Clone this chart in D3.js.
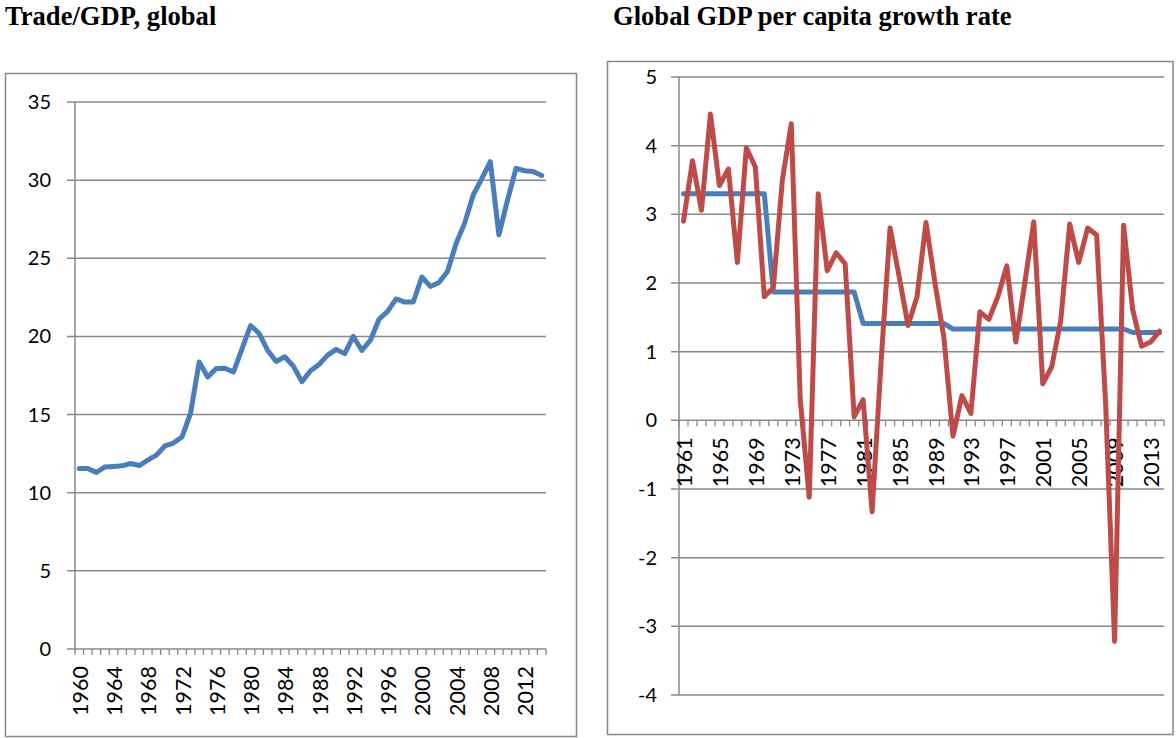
<!DOCTYPE html>
<html>
<head>
<meta charset="utf-8">
<script src="https://cdn.jsdelivr.net/npm/d3@7"></script>
<style>
  body { margin: 0; background: #fff; }
  text { font-family: Lato, "Liberation Sans", sans-serif; fill: #000; }
  .title { font-family: "Liberation Serif", "Times New Roman", serif; font-weight: bold; font-size: 26.6px; }
</style>
</head>
<body>
<script>
// Trade/GDP, global (per cent)
const tradeYears = [1960, 1961, 1962, 1963, 1964, 1965, 1966, 1967, 1968, 1969,
    1970, 1971, 1972, 1973, 1974, 1975, 1976, 1977, 1978, 1979,
    1980, 1981, 1982, 1983, 1984, 1985, 1986, 1987, 1988, 1989,
    1990, 1991, 1992, 1993, 1994, 1995, 1996, 1997, 1998, 1999,
    2000, 2001, 2002, 2003, 2004, 2005, 2006, 2007, 2008, 2009,
    2010, 2011, 2012, 2013, 2014];
const tradeGdp = [11.55, 11.55, 11.3, 11.65, 11.68, 11.72, 11.87, 11.74, 12.08, 12.4,
    13.0, 13.18, 13.57, 15.1, 18.37, 17.4, 17.95, 17.97, 17.72, 19.2,
    20.7, 20.2, 19.1, 18.4, 18.7, 18.1, 17.1, 17.8, 18.2, 18.8,
    19.17, 18.9, 20.0, 19.1, 19.76, 21.1, 21.6, 22.4, 22.2, 22.2,
    23.8, 23.2, 23.45, 24.15, 25.95, 27.25, 29.05, 30.1, 31.18, 26.5,
    28.7, 30.75, 30.6, 30.55, 30.3];
const tradeTicks = [0, 5, 10, 15, 20, 25, 30, 35];
const tradeLabelYears = [1960, 1964, 1968, 1972, 1976, 1980, 1984, 1988, 1992, 1996, 2000, 2004, 2008, 2012];

// Global GDP per capita growth rate
const growthYears = [1961, 1962, 1963, 1964, 1965, 1966, 1967, 1968, 1969, 1970,
    1971, 1972, 1973, 1974, 1975, 1976, 1977, 1978, 1979, 1980,
    1981, 1982, 1983, 1984, 1985, 1986, 1987, 1988, 1989, 1990,
    1991, 1992, 1993, 1994, 1995, 1996, 1997, 1998, 1999, 2000,
    2001, 2002, 2003, 2004, 2005, 2006, 2007, 2008, 2009, 2010,
    2011, 2012, 2013, 2014];
const growthRate = [2.9, 3.78, 3.06, 4.46, 3.42, 3.66, 2.3, 3.97, 3.69, 1.8,
    1.93, 3.49, 4.32, 0.3, -1.12, 3.3, 2.18, 2.44, 2.28, 0.05,
    0.3, -1.33, 0.85, 2.8, 2.1, 1.38, 1.8, 2.88, 2.0, 1.2,
    -0.23, 0.36, 0.1, 1.58, 1.47, 1.8, 2.25, 1.14, 2.0, 2.89,
    0.53, 0.78, 1.45, 2.86, 2.3, 2.8, 2.7, 0.25, -3.22, 2.84,
    1.62, 1.08, 1.14, 1.3];
const periodAverage = [3.3, 3.3, 3.3, 3.3, 3.3, 3.3, 3.3, 3.3, 3.3, 3.3,
    1.87, 1.87, 1.87, 1.87, 1.87, 1.87, 1.87, 1.87, 1.87, 1.87,
    1.41, 1.41, 1.41, 1.41, 1.41, 1.41, 1.41, 1.41, 1.41, 1.41,
    1.33, 1.33, 1.33, 1.33, 1.33, 1.33, 1.33, 1.33, 1.33, 1.33,
    1.33, 1.33, 1.33, 1.33, 1.33, 1.33, 1.33, 1.33, 1.33, 1.33,
    1.28, 1.28, 1.28, 1.28];
const growthTicks = [-4, -3, -2, -1, 0, 1, 2, 3, 4, 5];
const growthLabelYears = [1961, 1965, 1969, 1973, 1977, 1981, 1985, 1989, 1993, 1997, 2001, 2005, 2009, 2013];

const gridColor = "#898989";
const blue = "#4a7ebb", red = "#be4b48";

const svg = d3.select("body")
    .append("svg")
    .attr("width", 1176)
    .attr("height", 738);

// titles
svg.append("text").attr("class", "title").attr("x", 5).attr("y", 25).text("Trade/GDP, global");
svg.append("text").attr("class", "title").attr("x", 613).attr("y", 25).text("Global GDP per capita growth rate");

// category axis: ticks at band edges, every 4th label rotated
function categoryAxis(g, xScale, yPos, labelYears) {
    const edges = xScale.domain().map(d => xScale(d)).concat([xScale.range()[1]]);
    g.selectAll(".xtick")
        .data(edges)
        .enter()
        .append("line")
        .attr("x1", d => d).attr("x2", d => d)
        .attr("y1", yPos).attr("y2", yPos + 6)
        .attr("stroke", gridColor)
        .attr("stroke-width", 1.3);
    g.selectAll(".xlabel")
        .data(labelYears)
        .enter()
        .append("text")
        .attr("transform", d => `translate(${xScale(d) + xScale.bandwidth() / 2 + 1}, ${yPos + 17}) rotate(-90)`)
        .attr("text-anchor", "end")
        .attr("dy", "0.35em")
        .style("font-size", "21.5px")
        .text(d => d);
}

// ---------- left chart ----------
const left = svg.append("g");
left.append("rect")
    .attr("x", 5.5).attr("y", 73.5)
    .attr("width", 571).attr("height", 663)
    .attr("fill", "none").attr("stroke", gridColor).attr("stroke-width", 1.5);

const xLeft = d3.scaleBand().domain(tradeYears).range([75, 546]);
const yLeft = d3.scaleLinear().domain([0, 35]).range([649, 102]);

left.selectAll(".grid")
    .data(tradeTicks)
    .enter()
    .append("line")
    .attr("x1", 67).attr("x2", 546)
    .attr("y1", d => yLeft(d)).attr("y2", d => yLeft(d))
    .attr("stroke", gridColor).attr("stroke-width", 1.5);

left.append("line")
    .attr("x1", 75).attr("x2", 75)
    .attr("y1", yLeft(35)).attr("y2", yLeft(0))
    .attr("stroke", gridColor).attr("stroke-width", 1.5);

left.selectAll(".ylabel")
    .data(tradeTicks)
    .enter()
    .append("text")
    .attr("x", 51)
    .attr("y", d => yLeft(d))
    .attr("dy", "0.35em")
    .attr("text-anchor", "end")
    .style("font-size", "20px")
    .text(d => d);

categoryAxis(left, xLeft, yLeft(0), tradeLabelYears);

const tradeLine = d3.line()
    .x((d, i) => xLeft(tradeYears[i]) + xLeft.bandwidth() / 2)
    .y(d => yLeft(d));

left.append("path")
    .datum(tradeGdp)
    .attr("d", tradeLine)
    .attr("fill", "none")
    .attr("stroke", blue)
    .attr("stroke-width", 5)
    .attr("stroke-linejoin", "round")
    .attr("stroke-linecap", "round");

// ---------- right chart ----------
const right = svg.append("g");
right.append("rect")
    .attr("x", 607.5).attr("y", 61.5)
    .attr("width", 565.5).attr("height", 673)
    .attr("fill", "none").attr("stroke", gridColor).attr("stroke-width", 1.5);

const xRight = d3.scaleBand().domain(growthYears).range([679, 1164]);
const yRight = d3.scaleLinear().domain([-4, 5]).range([695, 77]);

right.selectAll(".grid")
    .data(growthTicks)
    .enter()
    .append("line")
    .attr("x1", 671).attr("x2", 1164)
    .attr("y1", d => yRight(d)).attr("y2", d => yRight(d))
    .attr("stroke", gridColor).attr("stroke-width", 1.5);

right.append("line")
    .attr("x1", 679).attr("x2", 679)
    .attr("y1", yRight(5)).attr("y2", yRight(-4))
    .attr("stroke", gridColor).attr("stroke-width", 1.5);

right.selectAll(".ylabel")
    .data(growthTicks)
    .enter()
    .append("text")
    .attr("x", 657)
    .attr("y", d => yRight(d))
    .attr("dy", "0.35em")
    .attr("text-anchor", "end")
    .style("font-size", "20px")
    .text(d => d);

categoryAxis(right, xRight, yRight(0), growthLabelYears);

const growthLine = d3.line()
    .x((d, i) => xRight(growthYears[i]) + xRight.bandwidth() / 2)
    .y(d => yRight(d));

right.append("path")
    .datum(periodAverage)
    .attr("d", growthLine)
    .attr("fill", "none")
    .attr("stroke", blue)
    .attr("stroke-width", 5)
    .attr("stroke-linejoin", "round")
    .attr("stroke-linecap", "round");

right.append("path")
    .datum(growthRate)
    .attr("d", growthLine)
    .attr("fill", "none")
    .attr("stroke", red)
    .attr("stroke-width", 5)
    .attr("stroke-linejoin", "round")
    .attr("stroke-linecap", "round");
</script>
</body>
</html>
